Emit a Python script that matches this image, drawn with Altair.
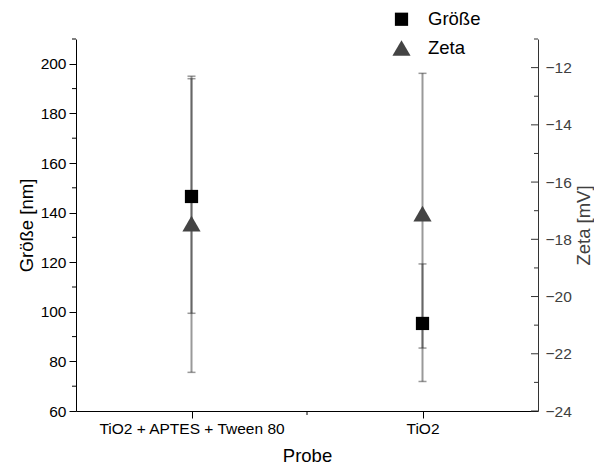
import altair as alt
import pandas as pd

# ---- data ----
probe = ["TiO2 + APTES + Tween 80", "TiO2"]
series = ["Größe", "Zeta"]

groesse = [146.5, 95.3]
groesse_lo = [99.4, 71.9]
groesse_hi = [194.0, 119.3]

zeta = [-17.45, -17.1]
zeta_lo = [-22.65, -21.8]
zeta_hi = [-12.3, -12.2]

size_major = [60, 80, 100, 120, 140, 160, 180, 200]
size_minor = [70, 90, 110, 130, 150, 170, 190, 210]
zeta_major = [-24, -22, -20, -18, -16, -14, -12]
zeta_minor = [-23, -21, -19, -17, -15, -13, -11]

W, H = 462, 372
FONT = "Liberation Sans"
BAR = "#333333"
LBL = 15.5
TTL = 18.5

df_s = pd.DataFrame({"Probe": probe, "Wert": groesse, "lo": groesse_lo,
                     "hi": groesse_hi, "Serie": series[0]})
df_z = pd.DataFrame({"Probe": probe, "Wert": zeta, "lo": zeta_lo,
                     "hi": zeta_hi, "Serie": series[1]})

x_enc = alt.X("Probe:N",
              scale=alt.Scale(type="point", domain=probe, padding=0.5),
              axis=alt.Axis(title="Probe", labelAngle=0, tickSize=7,
                            labelFontSize=LBL, labelPadding=3, labelLimit=400,
                            titleFontSize=TTL,
                            titleFontWeight="normal", titleX=W / 2, titleY=35,
                            titleBaseline="top", grid=False,
                            domainColor="black", tickColor="black",
                            labelColor="black", titleColor="black"))

sS = alt.Scale(domain=[60, 210], nice=False, zero=False)
sZ = alt.Scale(domain=[-24, -11], nice=False, zero=False)

axS = alt.Axis(title="Größe [nm]", orient="left", values=size_major,
               tickSize=7, labelFontSize=LBL, labelPadding=3, titleFontSize=TTL,
               titleFontWeight="normal", titleAngle=270, titleX=-44,
               titleY=H / 2, titleBaseline="alphabetic", titleAlign="center",
               grid=False, domainColor="black", tickColor="black",
               labelColor="black", titleColor="black")
axZ = alt.Axis(title="Zeta [mV]", orient="right", values=zeta_major,
               ticks=False, labelPadding=7, labelFontSize=LBL, titleFontSize=TTL,
               titleFontWeight="normal", titleAngle=270, titleX=51,
               titleY=H / 2, titleBaseline="alphabetic", titleAlign="center",
               grid=False, domainColor="#333333", labelColor="#404040",
               titleColor="#404040")

shape_enc = alt.Shape("Serie:N",
                      scale=alt.Scale(domain=series, range=["square", "triangle-up"]),
                      legend=alt.Legend(title=None))
color_enc = alt.Color("Serie:N",
                      scale=alt.Scale(domain=series, range=["#000000", "#444444"]),
                      legend=alt.Legend(title=None))
size_enc = alt.Size("Serie:N",
                    scale=alt.Scale(domain=series, range=[175, 330]),
                    legend=alt.Legend(title=None))


def bars(df, scale, axis):
    rule = alt.Chart(df).mark_rule(color=BAR, opacity=0.5, strokeWidth=2).encode(
        x=x_enc, y=alt.Y("lo:Q", scale=scale, axis=axis), y2="hi:Q")
    cap_lo = alt.Chart(df).mark_tick(orient="horizontal", size=8, thickness=1.5,
                                     color=BAR, opacity=0.5).encode(
        x=x_enc, y=alt.Y("lo:Q", scale=scale, axis=axis))
    cap_hi = alt.Chart(df).mark_tick(orient="horizontal", size=8, thickness=1.5,
                                     color=BAR, opacity=0.5).encode(
        x=x_enc, y=alt.Y("hi:Q", scale=scale, axis=axis))
    return [rule, cap_lo, cap_hi]


# size group (left axis) with minor ticks
size_layers = bars(df_s, sS, axS)
size_layers.append(
    alt.Chart(pd.DataFrame({"v": size_minor})).mark_rule(color="black", strokeWidth=1).encode(
        y=alt.Y("v:Q", scale=sS, axis=axS), x=alt.value(-4), x2=alt.value(0)))
size_group = alt.layer(*size_layers)

# zeta group (right axis) with inward ticks
zeta_layers = bars(df_z, sZ, axZ)
zeta_layers.append(
    alt.Chart(pd.DataFrame({"v": zeta_major})).mark_rule(color="#333333", strokeWidth=1).encode(
        y=alt.Y("v:Q", scale=sZ, axis=axZ), x=alt.value(W - 7), x2=alt.value(W)))
zeta_layers.append(
    alt.Chart(pd.DataFrame({"v": zeta_minor})).mark_rule(color="#333333", strokeWidth=1).encode(
        y=alt.Y("v:Q", scale=sZ, axis=axZ), x=alt.value(W - 4), x2=alt.value(W)))
zeta_group = alt.layer(*zeta_layers)

pts_s = alt.Chart(df_s).mark_point(filled=True, opacity=1, strokeWidth=0).encode(
    x=x_enc, y=alt.Y("Wert:Q", scale=sS, axis=None),
    shape=shape_enc, color=color_enc, size=size_enc)
pts_z = alt.Chart(df_z).mark_point(filled=True, opacity=1, strokeWidth=0).encode(
    x=x_enc, y=alt.Y("Wert:Q", scale=sZ, axis=None),
    shape=shape_enc, color=color_enc, size=size_enc)

# minor tick on the x axis between the two categories
x_minor = alt.Chart(pd.DataFrame({"m": [0]})).mark_rule(color="black", strokeWidth=1).encode(
    x=alt.value(W / 2), y=alt.value(H), y2=alt.value(H + 4))

chart = alt.layer(size_group, zeta_group, pts_s, pts_z, x_minor).resolve_scale(
    y="independent"
).properties(
    width=W, height=H,
    autosize=alt.AutoSizeParams(type="none"),
    padding={"left": 76, "top": 39, "right": 56, "bottom": 57},
).configure(
    font=FONT,
).configure_view(
    stroke=None
).configure_legend(
    orient="none", legendX=316, legendY=-29, labelFontSize=TTL, labelFont=FONT,
    labelColor="black", rowPadding=9.5, labelOffset=17, padding=0,
    symbolStrokeWidth=0,
)

chart.save("out.html", embed_options={"renderer": "svg", "actions": False})
